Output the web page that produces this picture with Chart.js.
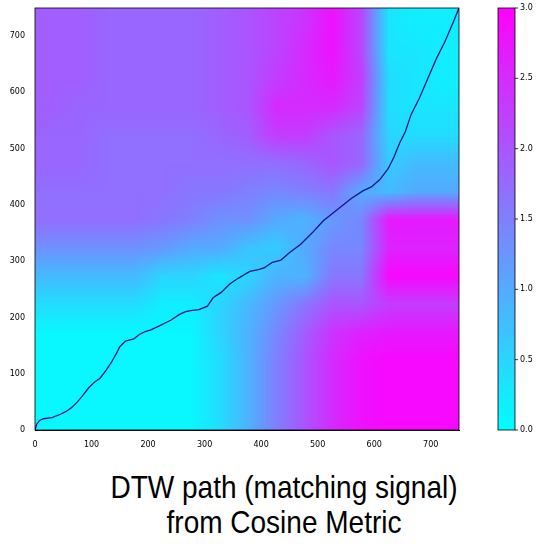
<!DOCTYPE html>
<html><head><meta charset="utf-8">
<script src="https://cdn.jsdelivr.net/npm/chart.js@4/dist/chart.umd.min.js"></script>
<style>body{margin:0;background:#fff;width:551px;height:546px;overflow:hidden;position:relative}
#t{position:absolute;left:84px;width:400px;top:470px;text-align:center;white-space:nowrap;font-family:"Liberation Sans",sans-serif;font-size:32px;line-height:35px;color:#000;transform:scaleX(0.875);transform-origin:200px 0}</style>
</head><body>
<div style="position:absolute;left:0;top:0;width:551px;height:460px"><canvas id="c"></canvas></div>
<div id="t">DTW path (matching signal)<br>from Cosine Metric</div>
<script>
// grid rows from bottom (y 0-50) to top (700-750), columns x 0-50 ... 700-750
const gridStep = 50;
const grid = [
 [0.1,0.1,0.1,0.1,0.1,0.1,0.4,0.9,1.5,2.0,2.5,2.8,2.9,2.9,2.9],
 [0.1,0.1,0.1,0.1,0.1,0.1,0.4,0.9,1.5,2.0,2.5,2.8,2.9,2.9,2.9],
 [0.1,0.1,0.1,0.1,0.1,0.1,0.4,0.9,1.5,2.0,2.5,2.8,2.9,2.9,2.9],
 [0.1,0.1,0.1,0.1,0.1,0.1,0.5,0.9,1.4,1.9,2.4,2.6,2.7,2.7,2.7],
 [0.4,0.4,0.4,0.4,0.2,0.2,0.5,0.8,1.2,1.6,2.0,2.0,2.3,2.3,2.3],
 [0.8,0.8,0.8,0.8,0.5,0.5,0.3,0.5,0.9,0.9,1.6,1.6,2.9,2.9,2.9],
 [1.3,1.3,1.3,1.3,1.2,1.0,1.0,0.7,0.6,1.0,1.4,1.4,2.6,2.6,2.6],
 [1.7,1.7,1.7,1.7,1.6,1.5,1.3,1.3,1.0,0.9,1.2,1.4,2.7,2.7,2.7],
 [1.7,1.7,1.7,1.7,1.7,1.6,1.6,1.5,1.4,1.5,1.6,1.0,0.8,1.0,1.0],
 [1.8,1.8,1.7,1.7,1.7,1.7,1.7,1.7,1.7,1.8,2.0,1.8,0.6,0.8,0.8],
 [1.8,1.8,1.7,1.7,1.7,1.7,1.8,1.9,2.3,2.3,2.0,1.8,0.5,0.4,0.4],
 [1.9,1.8,1.8,1.8,1.8,1.8,1.9,2.0,2.5,2.5,2.5,2.2,0.4,0.3,0.3],
 [1.9,1.9,1.8,1.8,1.8,1.8,1.9,2.0,2.3,2.5,2.7,2.3,0.4,0.3,0.2],
 [1.9,1.9,1.8,1.8,1.8,1.8,1.9,2.0,2.2,2.5,2.8,2.2,0.3,0.3,0.2],
 [1.9,1.9,1.8,1.8,1.8,1.8,1.9,2.0,2.2,2.4,2.8,2.2,0.3,0.2,0.2]
];
const pathX = [0,3,8,15,30,45,55,65,75,85,95,105,115,125,135,145,150,160,175,185,195,205,220,240,255,265,275,290,305,315,330,345,360,380,395,405,420,435,450,470,490,510,530,545,560,580,595,610,625,635,645,655,665,680,695,710,725,740,750];
const pathY = [0,10,17,20,22,28,33,40,50,62,75,85,92,105,120,138,148,158,162,170,175,178,185,195,205,210,212,214,220,235,245,260,270,282,285,288,298,302,315,330,350,372,388,400,412,425,432,445,465,485,510,530,560,590,625,660,690,725,750];
const axisTicks = [0,100,200,300,400,500,600,700];
const cbTicks = [0.0,0.5,1.0,1.5,2.0,2.5,3.0];
const vmin=0, vmax=3;
function cool(v){const t=Math.max(0,Math.min(1,(v-vmin)/(vmax-vmin)));return [Math.round(255*t),Math.round(255*(1-t)),255];}

const heat = {id:'heat',beforeDatasetsDraw(ch){
  const {ctx,scales:{x,y}}=ch;
  const n=grid.length,m=grid[0].length;
  const off=document.createElement('canvas');off.width=m;off.height=n;
  const oc=off.getContext('2d');const img=oc.createImageData(m,n);
  for(let r=0;r<n;r++)for(let c=0;c<m;c++){const col=cool(grid[r][c]);const i=((n-1-r)*m+c)*4;img.data[i]=col[0];img.data[i+1]=col[1];img.data[i+2]=col[2];img.data[i+3]=255;}
  oc.putImageData(img,0,0);
  const x0=x.getPixelForValue(0),x1=x.getPixelForValue(m*gridStep),y0=y.getPixelForValue(n*gridStep),y1=y.getPixelForValue(0);
  ctx.save();ctx.imageSmoothingEnabled=true;
  ctx.beginPath();ctx.rect(x0,y0,x1-x0,y1-y0);ctx.clip();
  ctx.drawImage(off,0,0,m,n,x0,y0,x1-x0,y1-y0);
  ctx.restore();
},
afterDraw(ch){
  const {ctx,chartArea:a}=ch;
  const L=498,W=17,T=a.top,B=a.bottom;
  const g=ctx.createLinearGradient(0,B,0,T);
  const c0=cool(vmin),c1=cool(vmax);
  g.addColorStop(0,`rgb(${c0})`);g.addColorStop(1,`rgb(${c1})`);
  ctx.save();ctx.fillStyle=g;ctx.fillRect(L,T,W,B-T);
  ctx.strokeStyle='#000';ctx.lineWidth=0.8;ctx.strokeRect(L,T,W,B-T);
  ctx.fillStyle='#000';ctx.font='8px "DejaVu Sans"';ctx.textBaseline='middle';
  cbTicks.forEach(v=>{const py=B-(v-vmin)/(vmax-vmin)*(B-T);ctx.beginPath();ctx.moveTo(L+W,py);ctx.lineTo(L+W+3,py);ctx.stroke();ctx.fillText(v.toFixed(1),L+W+5,py);});
  ctx.strokeRect(a.left,a.top,a.right-a.left,a.bottom-a.top);
  ctx.restore();
}};

new Chart(document.getElementById('c'),{
  type:'line',
  data:{datasets:[{data:pathX.map((v,i)=>({x:v,y:pathY[i]})),borderColor:'#14148c',borderWidth:1.3,pointRadius:0,tension:0}]},
  options:{responsive:true,maintainAspectRatio:false,animation:false,
    layout:{padding:{left:0,right:92,top:8,bottom:0}},
    plugins:{legend:{display:false},tooltip:{enabled:false}},
    scales:{
      x:{type:'linear',min:0,max:750,grid:{display:false},border:{color:'#000'},
        afterBuildTicks(s){s.ticks=axisTicks.map(v=>({value:v}));},
        ticks:{color:'#000',font:{size:8,family:'DejaVu Sans'},padding:2},afterFit(s){s.height=30;}},
      y:{type:'linear',min:0,max:750,grid:{display:false},border:{color:'#000'},
        afterBuildTicks(s){s.ticks=axisTicks.map(v=>({value:v}));},
        ticks:{color:'#000',font:{size:8,family:'DejaVu Sans'},padding:2},afterFit(s){s.width=35;}}
    }},
  plugins:[heat]
});
</script></body></html>
